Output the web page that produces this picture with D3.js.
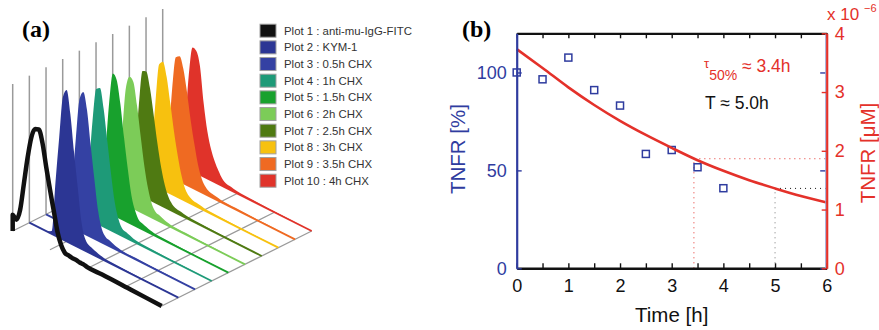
<!DOCTYPE html>
<html>
<head>
<meta charset="utf-8">
<script src="https://cdn.jsdelivr.net/npm/d3@7"></script>
<style>
    body { margin: 0; background: #fff; }
    svg { display: block; }
    text { font-family: "Liberation Sans", Arial, sans-serif; }
    .panel-label { font-family: "Liberation Serif", "Times New Roman", serif; font-weight: bold; font-size: 24px; }
</style>
</head>
<body>
<svg id="figure_svg" width="879" height="330"></svg>
<script>
// ---------- Panel (a) data: flow cytometry histograms ----------
var legendLabels = [
    "Plot 1 : anti-mu-IgG-FITC",
    "Plot 2 : KYM-1",
    "Plot 3 : 0.5h CHX",
    "Plot 4 : 1h CHX",
    "Plot 5 : 1.5h CHX",
    "Plot 6 : 2h CHX",
    "Plot 7 : 2.5h CHX",
    "Plot 8 : 3h CHX",
    "Plot 9 : 3.5h CHX",
    "Plot 10 : 4h CHX"
];

// fluorescence positions (fraction of the axis) where the counts were read
var fluoBins = [0, 0.025, 0.05, 0.075, 0.1, 0.125, 0.15, 0.175, 0.2, 0.225, 0.25, 0.275,
                0.3, 0.325, 0.35, 0.375, 0.4, 0.425, 0.45, 0.475, 0.5, 0.6, 0.8, 1.0];

// relative counts for each plot
var hist1  = [0.11, 0.09, 0.17, 0.36, 0.55, 0.70, 0.77, 0.78, 0.70, 0.55, 0.41, 0.28, 0.15, 0.07, 0.03, 0.025, 0.02, 0.02, 0.015, 0.015, 0.01, 0.01, 0.005, 0];
var hist2  = [0, 0, 0, 0, 0, 0.005, 0.02, 0.36, 0.68, 0.97, 1.03, 0.88, 0.63, 0.40, 0.18, 0.08, 0.05, 0.04, 0.03, 0.02, 0.015, 0.01, 0.005, 0];
var hist3  = [0, 0, 0, 0, 0, 0.005, 0.03, 0.28, 0.62, 0.90, 0.96, 0.85, 0.62, 0.40, 0.20, 0.09, 0.05, 0.04, 0.03, 0.02, 0.015, 0.01, 0.005, 0];
var hist4  = [0, 0, 0, 0, 0, 0.01, 0.05, 0.34, 0.68, 0.91, 0.93, 0.80, 0.59, 0.38, 0.20, 0.10, 0.05, 0.04, 0.03, 0.02, 0.015, 0.01, 0.005, 0];
var hist5  = [0, 0, 0, 0, 0, 0.01, 0.07, 0.40, 0.75, 0.96, 0.93, 0.78, 0.56, 0.36, 0.19, 0.10, 0.05, 0.04, 0.03, 0.02, 0.015, 0.01, 0.005, 0];
var hist6  = [0, 0, 0, 0, 0, 0.02, 0.13, 0.47, 0.79, 0.88, 0.86, 0.71, 0.51, 0.32, 0.18, 0.09, 0.05, 0.04, 0.03, 0.02, 0.015, 0.01, 0.005, 0];
var hist7  = [0, 0, 0, 0, 0, 0.04, 0.24, 0.60, 0.85, 0.86, 0.76, 0.59, 0.41, 0.26, 0.15, 0.08, 0.045, 0.03, 0.025, 0.02, 0.015, 0.01, 0.005, 0];
var hist8  = [0, 0, 0, 0, 0, 0.04, 0.22, 0.57, 0.84, 0.87, 0.78, 0.61, 0.43, 0.28, 0.16, 0.08, 0.045, 0.03, 0.025, 0.02, 0.015, 0.01, 0.005, 0];
var hist9  = [0, 0, 0, 0, 0, 0.04, 0.24, 0.60, 0.83, 0.85, 0.78, 0.63, 0.45, 0.30, 0.17, 0.09, 0.05, 0.03, 0.025, 0.02, 0.015, 0.01, 0.005, 0];
var hist10 = [0, 0, 0, 0, 0, 0.05, 0.29, 0.64, 0.84, 0.83, 0.74, 0.50, 0.32, 0.21, 0.14, 0.09, 0.05, 0.03, 0.025, 0.02, 0.015, 0.01, 0.005, 0];
var histograms = [hist1, hist2, hist3, hist4, hist5, hist6, hist7, hist8, hist9, hist10];

// floor grid positions along the fluorescence axis
var floorTicks = [0, 0.25, 0.5, 0.75, 1.0];

// ---------- Panel (b) data: TNFR decay ----------
var measuredTime = [0, 0.5, 1, 1.5, 2, 2.5, 3, 3.5, 4];
var measuredTNFR = [100, 96.5, 107.6, 91.0, 83.1, 58.4, 60.4, 51.6, 40.9];   // %

var fitTime = [0, 0.5, 1, 1.5, 2, 2.5, 3, 3.5, 4, 4.5, 5, 5.5, 6];
var fitConc = [3.73, 3.41, 3.08, 2.78, 2.51, 2.27, 2.05, 1.84, 1.66, 1.50, 1.36, 1.23, 1.12];  // x 1e-6 uM

var timeTicks = [0, 0.5, 1, 1.5, 2, 2.5, 3, 3.5, 4, 4.5, 5, 5.5, 6];
var pctTicks = [0, 50, 100];
var concTicks = [0, 1, 2, 3, 4];

var halfLifeMark = [3.43, 1.865];   // tau 50% (time, conc)
var lifeTimeMark = [5.0, 1.36];     // T (time, conc)

// colours for the plots (style, not data)
var plotColors = ["#111111", "#2c3694", "#3441a3", "#1e9a78", "#18a12d", "#7ccc58",
                  "#4f7a12", "#f7c10f", "#ef6a22", "#e0332a"];

document.addEventListener("DOMContentLoaded", function() {
    var svg = d3.select("#figure_svg");

    // ================= PANEL (a) =================
    const pa = svg.append("g");

    // oblique projection: series depth, fluorescence, count
    const depthX = d3.scaleLinear().domain([0, 9]).range([12.7, 162.7]);
    const depthY = d3.scaleLinear().domain([0, 9]).range([231, 156]);
    const fluoX = d3.scaleLinear().domain([0, 1]).range([0, 149]);
    const fluoY = d3.scaleLinear().domain([0, 1]).range([0, 75]);
    const countY = d3.scaleLinear().domain([0, 1]).range([0, 147]);

    function px(i, f) { return depthX(i) + fluoX(f); }
    function py(i, f, h) { return depthY(i) + fluoY(f) - countY(h); }

    // floor grid lines (depth direction)
    pa.selectAll(".floor")
        .data(floorTicks)
        .enter()
        .append("line")
        .attr("x1", f => px(0, f)).attr("y1", f => py(0, f, 0))
        .attr("x2", f => px(9, f)).attr("y2", f => py(9, f, 0))
        .attr("stroke", "#9a9a9a")
        .attr("stroke-width", 1.3);

    // draw back to front
    for (let i = 9; i >= 0; i--) {
        const pts = fluoBins.map((f, k) => ({ f: f, h: histograms[i][k] }));

        // vertical count axis of this plot
        pa.append("line")
            .attr("x1", px(i, 0)).attr("y1", py(i, 0, 0))
            .attr("x2", px(i, 0)).attr("y2", py(i, 0, 1))
            .attr("stroke", "#9a9a9a")
            .attr("stroke-width", 1.5);

        if (i > 0) {
            const area = d3.area()
                .x(d => px(i, d.f))
                .y0(d => py(i, d.f, 0))
                .y1(d => py(i, d.f, d.h))
                .curve(d3.curveMonotoneX);
            pa.append("path")
                .datum(pts)
                .attr("d", area)
                .attr("fill", plotColors[i]);

            pa.append("line")
                .attr("x1", px(i, 0)).attr("y1", py(i, 0, 0))
                .attr("x2", px(i, 1)).attr("y2", py(i, 1, 0))
                .attr("stroke", plotColors[i])
                .attr("stroke-width", 1.8);
        } else {
            // plot 1 is an outline only
            const line = d3.line()
                .x(d => px(0, d.f))
                .y(d => py(0, d.f, d.h))
                .curve(d3.curveMonotoneX);
            pa.append("path")
                .datum([{ f: 0, h: 0 }].concat(pts))
                .attr("d", line)
                .attr("fill", "none")
                .attr("stroke", plotColors[0])
                .attr("stroke-width", 4.5)
                .attr("stroke-linejoin", "round");
        }
    }

    // legend
    const legendY = d3.scalePoint().domain(legendLabels).range([30.7, 180.7]);
    const legend = pa.append("g");
    legend.selectAll("rect")
        .data(legendLabels)
        .enter()
        .append("rect")
        .attr("x", 260).attr("y", d => legendY(d) - 6.5)
        .attr("width", 16).attr("height", 13)
        .attr("fill", (d, i) => plotColors[i])
        .attr("stroke", "#a0a0a0")
        .attr("stroke-width", 1);
    legend.selectAll("text")
        .data(legendLabels)
        .enter()
        .append("text")
        .attr("x", 284).attr("y", d => legendY(d))
        .attr("dy", "0.35em")
        .attr("font-size", "11.4px")
        .attr("fill", "#333")
        .text(d => d);

    svg.append("text").attr("class", "panel-label").attr("x", 22).attr("y", 37).text("(a)");

    // ================= PANEL (b) =================
    const bx0 = 516.7, bx1 = 826.7, by0 = 268.3, by1 = 33.3;
    const blue = "#2f3c9f", red = "#e4312a";

    const timeScale = d3.scaleLinear().domain([0, 6]).range([bx0, bx1]);
    const pctScale = d3.scaleLinear().domain([0, 120]).range([by0, by1]);
    const concScale = d3.scaleLinear().domain([0, 4]).range([by0, by1]);

    const pb = svg.append("g");

    // dotted guide lines
    pb.append("path")
        .attr("d", `M${timeScale(halfLifeMark[0])},${by0}V${concScale(halfLifeMark[1])}H${bx1}`)
        .attr("fill", "none").attr("stroke", red).attr("stroke-width", 1)
        .attr("stroke-dasharray", "1,4");
    pb.append("path")
        .attr("d", `M${timeScale(lifeTimeMark[0])},${by0}V${concScale(lifeTimeMark[1])}`)
        .attr("fill", "none").attr("stroke", "#777").attr("stroke-width", 1)
        .attr("stroke-dasharray", "1,4");
    pb.append("path")
        .attr("d", `M${timeScale(lifeTimeMark[0])},${concScale(lifeTimeMark[1])}H${bx1}`)
        .attr("fill", "none").attr("stroke", "#111").attr("stroke-width", 1)
        .attr("stroke-dasharray", "1,4");

    // measured squares
    pb.selectAll(".pt")
        .data(measuredTime)
        .enter()
        .append("rect")
        .attr("x", (d, i) => timeScale(d) - 3.5)
        .attr("y", (d, i) => pctScale(measuredTNFR[i]) - 3.5)
        .attr("width", 7).attr("height", 7)
        .attr("fill", "none")
        .attr("stroke", blue)
        .attr("stroke-width", 1.5);

    // fitted curve
    pb.append("path")
        .datum(fitTime)
        .attr("d", d3.line()
            .x(d => timeScale(d))
            .y((d, i) => concScale(fitConc[i]))
            .curve(d3.curveMonotoneX))
        .attr("fill", "none")
        .attr("stroke", red)
        .attr("stroke-width", 2.6);

    // AXES
    function styleAxis(g, color, domainWidth, fontSize) {
        g.style("color", color).attr("font-size", fontSize);
        g.select(".domain").attr("stroke-width", domainWidth);
        g.selectAll(".tick line").attr("stroke-width", 1.4);
    }

    // x axis, bottom
    const xAxisG = pb.append("g")
        .attr("transform", `translate(0,${by0})`)
        .call(d3.axisBottom(timeScale).tickValues(timeTicks).tickSize(-5).tickSizeOuter(0)
            .tickPadding(11).tickFormat(d => Number.isInteger(d) ? d : ""));
    styleAxis(xAxisG, "#111", 2.6, 18);

    // x axis, top (ticks only)
    const xTopG = pb.append("g")
        .attr("transform", `translate(0,${by1})`)
        .call(d3.axisTop(timeScale).tickValues(timeTicks).tickSize(-5).tickSizeOuter(0).tickFormat(""));
    styleAxis(xTopG, "#111", 2.2, 18);

    // left y axis (%)
    const yLeftG = pb.append("g")
        .attr("transform", `translate(${bx0},0)`)
        .call(d3.axisLeft(pctScale).tickValues(pctTicks).tickSize(-5).tickSizeOuter(0)
            .tickPadding(10).tickFormat(d => d));
    styleAxis(yLeftG, blue, 2.2, 18);

    // mirrored left ticks on the right side
    const yMirrorG = pb.append("g")
        .attr("transform", `translate(${bx1 - 1.5},0)`)
        .call(d3.axisRight(pctScale).tickValues(pctTicks).tickSize(-5).tickSizeOuter(0).tickFormat(""));
    styleAxis(yMirrorG, blue, 1, 18);
    yMirrorG.select(".domain").attr("stroke", "#9aa0d0");

    // right y axis (uM)
    const yRightG = pb.append("g")
        .attr("transform", `translate(${bx1},0)`)
        .call(d3.axisRight(concScale).tickValues(concTicks).tickSize(-5).tickSizeOuter(0)
            .tickPadding(8).tickFormat(d => d));
    styleAxis(yRightG, red, 2.2, 18);

    // axis labels
    pb.append("text")
        .attr("x", (bx0 + bx1) / 2).attr("y", 322)
        .attr("text-anchor", "middle")
        .attr("font-size", "20.5px").attr("fill", "#111")
        .text("Time [h]");
    pb.append("text")
        .attr("transform", "translate(458,149) rotate(-90)")
        .attr("text-anchor", "middle").attr("dy", "0.35em")
        .attr("font-size", "20.5px").attr("fill", blue)
        .text("TNFR [%]");
    pb.append("text")
        .attr("transform", "translate(868,153) rotate(-90)")
        .attr("text-anchor", "middle").attr("dy", "0.35em")
        .attr("font-size", "20.5px").attr("fill", red)
        .text("TNFR [μM]");

    // exponent
    pb.append("text").attr("x", 827).attr("y", 20).attr("fill", red).attr("font-size", "17px").text("x 10");
    pb.append("text").attr("x", 864).attr("y", 11.5).attr("fill", red).attr("font-size", "11px").text("−6");

    // annotations
    const tau = pb.append("text").attr("x", 704).attr("fill", red);
    tau.append("tspan").attr("y", 68).attr("font-size", "13px").text("τ");
    tau.append("tspan").attr("y", 80).attr("font-size", "14px").text("50%");
    tau.append("tspan").attr("y", 72).attr("font-size", "17.5px").text(" ≈ 3.4h");

    pb.append("text")
        .attr("x", 705).attr("y", 108.5)
        .attr("font-size", "17.5px").attr("fill", "#111")
        .text("T ≈ 5.0h");

    svg.append("text").attr("class", "panel-label").attr("x", 462).attr("y", 37).text("(b)");
});
</script>
</body>
</html>
